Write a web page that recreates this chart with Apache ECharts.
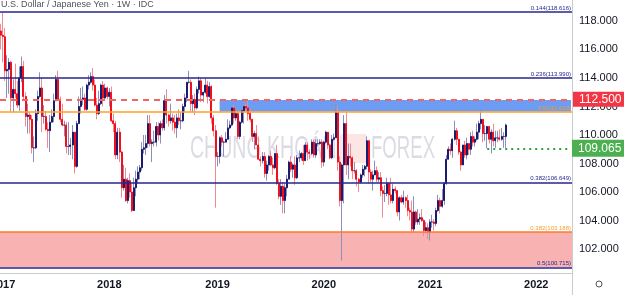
<!DOCTYPE html>
<html><head><meta charset="utf-8">
<script src="https://cdn.jsdelivr.net/npm/echarts@6/dist/echarts.min.js"></script>
<style>html,body{margin:0;padding:0;background:#fff}#c{width:624px;height:295px}</style>
</head><body><div id="c"></div>
<script>
// ---- data ----
const startWeek = '2016-12-26';
const weekCount = 280;               // visible weekly slots (incl. empty future)
const yearLabels = ['2017','2018','2019','2020','2021','2022'];
const yTickValues = [102,104,106,108,110,112,114,116,118];
const yMin = 100.32, yMax = 119.47;

const opens = [
117.3,117.0,116.9,114.5,114.6,115.1,112.6,113.2,112.9,112.1,
114.0,114.8,112.7,111.3,111.4,111.1,109.1,109.1,111.5,112.7,
113.3,111.3,111.3,110.4,110.3,110.9,111.3,112.4,113.9,112.5,
111.1,110.7,110.7,109.2,109.2,109.3,110.2,107.8,110.8,112.0,
112.5,112.6,111.8,113.5,113.7,114.1,113.5,112.1,111.5,112.2,
113.5,112.6,113.3,112.7,113.0,111.0,110.8,108.6,110.2,108.8,
106.3,106.9,105.4,106.8,106.0,104.7,106.3,106.9,107.4,107.7,
109.0,109.1,109.4,110.8,109.4,109.5,109.5,110.6,110.0,110.8,
110.5,112.4,111.4,111.0,111.2,110.9,110.5,111.2,111.0,111.0,
112.0,112.6,113.7,113.7,112.2,112.5,111.9,113.2,113.8,112.8,
113.0,113.5,112.7,113.4,111.2,110.3,108.5,108.5,109.8,109.5,
109.5,109.7,110.5,110.7,111.9,111.2,111.5,109.9,110.9,111.7,
112.0,111.9,111.5,111.1,109.9,110.1,109.3,108.3,108.2,108.5,
107.3,107.9,108.5,107.9,107.7,108.7,106.6,105.7,106.4,105.4,
106.3,106.9,108.1,107.6,107.9,107.0,108.4,108.4,108.7,108.2,
109.3,108.8,108.7,109.5,108.6,109.4,109.4,109.5,108.1,109.5,
110.2,109.3,108.4,109.7,109.8,111.6,108.1,105.4,107.9,110.8,
107.9,108.5,108.4,107.5,107.5,106.9,106.7,107.2,107.6,107.8,
109.6,107.4,106.9,107.2,107.5,106.9,107.0,106.1,105.9,105.9,
106.6,105.8,105.4,106.2,106.1,104.6,105.6,105.3,105.6,105.4,
104.7,104.6,103.4,104.6,103.9,104.1,104.2,104.0,103.3,103.5,
103.2,103.9,103.9,103.8,104.7,105.4,105.0,105.4,106.6,108.3,
109.0,108.9,109.7,110.3,109.7,108.8,107.9,109.3,108.6,109.4,
109.0,109.9,109.5,109.7,110.2,110.8,111.1,110.1,110.1,110.6,
109.7,110.2,109.6,109.8,109.8,109.7,109.9,109.9];

const highs = [
117.8,118.6,117.5,115.6,115.4,115.2,113.9,115.0,113.8,114.8,
115.5,115.2,113.0,112.2,111.6,111.4,109.9,111.8,113.1,114.4,
114.0,112.1,111.7,110.9,111.4,111.8,112.9,114.2,114.5,112.7,
112.2,111.0,110.9,110.9,109.8,110.7,110.2,111.0,112.7,113.3,
113.4,112.9,113.6,114.2,114.4,114.7,113.9,112.6,113.1,113.6,
113.8,113.6,113.4,113.3,113.4,111.5,111.0,110.5,110.5,108.9,
107.9,107.7,107.0,107.3,106.6,107.0,107.5,107.8,107.9,109.5,
110.0,110.0,111.4,111.4,109.7,110.3,110.9,110.9,111.0,111.1,
112.8,113.2,111.5,112.2,111.5,111.4,111.5,111.8,111.6,112.2,
112.9,113.7,114.5,113.9,112.8,112.9,113.4,114.1,114.0,113.0,
114.0,113.8,113.7,113.5,111.4,110.7,108.8,109.9,110.0,109.6,
110.2,111.1,111.0,111.9,112.1,111.9,111.7,111.0,111.8,112.1,
112.2,112.4,111.8,111.1,110.3,110.7,109.9,108.5,108.8,108.8,
108.2,108.6,108.9,108.4,108.7,109.3,106.9,106.9,106.7,106.6,
107.2,108.2,108.5,108.0,108.5,108.6,108.9,108.8,109.3,109.5,
109.5,109.0,109.7,109.7,109.7,109.7,109.7,109.7,109.6,110.3,
110.2,109.4,110.0,110.1,112.2,112.0,108.5,108.0,111.4,111.7,
109.4,109.4,108.5,108.1,107.6,107.0,107.3,107.9,107.9,109.9,
109.6,107.6,107.5,108.2,107.8,107.4,107.4,106.4,106.5,107.0,
106.7,107.0,106.6,106.4,106.1,105.7,105.8,106.1,105.7,105.8,
104.9,105.4,105.7,104.7,104.8,104.5,104.8,104.1,103.9,103.8,
104.1,104.4,104.1,104.9,105.8,105.6,106.2,106.7,108.6,109.2,
109.4,109.8,111.0,110.5,109.7,108.9,109.3,109.6,109.8,109.4,
110.2,110.3,109.9,110.8,111.0,111.7,111.1,110.7,110.6,110.6,
110.4,110.8,110.3,110.3,110.4,110.5,110.2,110.8];

const lows = [
116.0,115.1,113.8,112.6,112.9,111.6,111.6,112.6,111.9,111.7,
113.7,112.5,110.6,110.1,110.1,108.7,108.1,109.0,111.0,112.6,
110.2,110.8,110.3,109.1,108.8,110.9,110.9,112.4,112.4,110.9,
110.6,109.9,108.7,108.6,108.6,108.3,107.3,107.7,110.8,111.5,
112.1,111.7,111.7,113.2,113.6,113.1,112.0,111.1,111.4,112.1,
112.0,112.5,112.5,112.0,110.9,110.2,108.3,108.3,108.1,105.6,
106.1,105.3,105.2,105.6,104.6,104.7,105.7,106.6,106.9,107.5,
108.7,108.6,109.1,109.2,108.1,109.2,109.2,109.6,109.4,110.3,
110.3,110.8,110.6,110.8,110.3,110.1,109.8,110.7,110.4,110.9,
111.6,112.3,113.6,111.6,111.6,111.4,111.8,112.9,112.3,112.3,
112.9,112.2,112.6,110.8,109.9,104.9,107.8,108.0,109.2,108.5,
109.5,109.7,110.4,110.6,110.8,111.0,109.7,109.7,110.8,110.8,
111.7,111.0,110.9,109.5,109.0,109.3,108.3,107.8,108.0,107.0,
106.8,107.5,107.8,107.2,107.6,106.5,105.5,105.1,104.5,104.5,
105.7,106.9,107.4,107.0,106.5,106.9,108.1,108.2,107.9,108.2,
108.2,108.3,108.6,108.4,108.4,109.2,109.3,107.7,107.8,109.4,
109.0,108.3,108.3,109.6,109.8,107.5,105.0,101.2,105.2,107.2,
106.9,107.8,106.9,107.3,106.4,106.0,106.6,107.0,107.1,107.6,
106.6,106.7,106.1,107.2,106.7,106.7,105.7,104.2,105.3,105.7,
105.1,105.2,105.2,105.9,104.3,104.0,105.2,105.1,104.9,104.3,
104.0,103.2,103.2,103.7,103.7,103.7,103.9,102.9,103.1,102.7,
102.6,103.5,103.3,103.6,104.6,104.5,104.9,105.1,106.5,108.3,
108.6,108.4,109.6,109.3,108.6,107.5,107.9,108.4,108.3,108.6,
108.6,109.2,109.2,109.6,109.7,110.4,109.5,109.6,109.065,109.4,
108.7,109.2,109.1,109.5,109.6,109.6,109.1,109.1];

const closes = [
117.0,116.9,114.5,114.6,115.1,112.6,113.2,112.9,112.1,114.0,
114.8,112.7,111.3,111.4,111.1,109.1,109.1,111.5,112.7,113.3,
111.3,111.3,110.4,110.3,110.9,111.3,112.4,113.9,112.5,111.1,
110.7,110.7,109.2,109.2,109.3,110.2,107.8,110.8,112.0,112.5,
112.6,111.8,113.5,113.7,114.1,113.5,112.1,111.5,112.2,113.5,
112.6,113.3,112.7,113.0,111.0,110.8,108.6,110.2,108.8,106.3,
106.9,105.4,106.8,106.0,104.7,106.3,106.9,107.4,107.7,109.0,
109.1,109.4,110.8,109.4,109.5,109.5,110.6,110.0,110.8,110.5,
112.4,111.4,111.0,111.2,110.9,110.5,111.2,111.0,111.0,112.0,
112.6,113.7,113.7,112.2,112.5,111.9,113.2,113.8,112.8,113.0,
113.5,112.7,113.4,111.2,110.3,108.5,108.5,109.8,109.5,109.5,
109.7,110.5,110.7,111.9,111.2,111.5,109.9,110.9,111.7,112.0,
111.9,111.5,111.1,109.9,110.1,109.3,108.3,108.2,108.5,107.3,
107.9,108.5,107.9,107.7,108.7,106.6,105.7,106.4,105.4,106.3,
106.9,108.1,107.6,107.9,107.0,108.4,108.4,108.7,108.2,109.3,
108.8,108.7,109.5,108.6,109.4,109.4,109.5,108.1,109.5,110.2,
109.3,108.4,109.7,109.8,111.6,108.1,105.4,107.9,110.8,107.9,
108.5,108.4,107.5,107.5,106.9,106.7,107.2,107.6,107.8,109.6,
107.4,106.9,107.2,107.5,106.9,107.0,106.1,105.9,105.9,106.6,
105.8,105.4,106.2,106.1,104.6,105.6,105.3,105.6,105.4,104.7,
104.6,103.4,104.6,103.9,104.1,104.2,104.0,103.3,103.5,103.2,
103.9,103.9,103.8,104.7,105.4,105.0,105.4,106.6,108.3,109.0,
108.9,109.7,110.3,109.7,108.8,107.9,109.3,108.6,109.4,109.0,
109.9,109.5,109.7,110.2,110.8,111.1,110.1,110.1,110.6,109.7,
110.2,109.6,109.8,109.8,109.7,109.9,109.9,110.7];

// reference levels
const fibNavyValues = [118.616, 113.990, 106.649, 100.715];
const fibNavyTexts  = ['0.144(118.616)','0.236(113.990)','0.382(106.649)','0.5(100.715)'];
const fibOrangeValues = [111.61, 103.188];
const fibOrangeTexts  = ['0.5(111.613)','0.382(103.188)'];
const resistanceLevel = 112.5;
const supportLevel = 109.065;
const supportStart = '2021-07-19';
const zoneStart = '2019-01-14';
const zoneTop = 112.45, zoneBottom = 111.65;

// ---- build ----
const categories = [];
{
  const d = new Date(startWeek + 'T00:00:00Z');
  for (let i = 0; i < weekCount; i++) {
    categories.push(d.toISOString().slice(0, 10));
    d.setUTCDate(d.getUTCDate() + 7);
  }
}
const fullData = opens.map((o, i) => [o, closes[i], lows[i], highs[i]]);
const bodyData = opens.map((o, i) => [o, closes[i], Math.min(o, closes[i]), Math.max(o, closes[i])]);
const lastCat = categories[categories.length - 1];

const NAVY = '#26268f';
const fibLines = fibNavyValues.map((v, i) => ({
  yAxis: v,
  lineStyle: { color: NAVY, width: 1.6, type: 'solid' },
  label: { show: true, position: 'insideEndTop', formatter: fibNavyTexts[i], color: NAVY, fontSize: 6, distance: 1 }
})).concat(fibOrangeValues.map((v, i) => ({
  yAxis: v,
  lineStyle: { color: i === 0 ? '#ffa126' : '#ff7a2a', width: 1.6, type: 'solid' },
  label: { show: true, position: 'insideEndTop', formatter: fibOrangeTexts[i], color: '#f0a030', fontSize: 6, distance: 1 }
})));

const chart = echarts.init(document.getElementById('c'), null, { renderer: 'canvas' });
const FONT = '"Liberation Sans", Arial, sans-serif';
chart.setOption({
  animation: false,
  backgroundColor: '#fff',
  textStyle: { fontFamily: FONT },
  grid: { left: 0, right: 52, top: 0, bottom: 22, containLabel: false, outerBoundsMode: 'none' },
  xAxis: {
    type: 'category', data: categories, boundaryGap: true,
    axisLine: { show: true, lineStyle: { color: '#c9cbd1', width: 1 } },
    axisTick: { show: false },
    splitLine: { show: false },
    axisLabel: {
      interval: (idx, val) => {
        const y = val.slice(0, 4), m = val.slice(5, 7), d = +val.slice(8, 10);
        return m === '01' && d <= 7 && yearLabels.includes(y);
      },
      formatter: (val) => val.slice(0, 4),
      hideOverlap: false,
      color: '#131722', fontSize: 11, fontWeight: 'bold', margin: 6, fontFamily: FONT
    }
  },
  yAxis: {
    type: 'value', position: 'right', min: yMin, max: yMax, scale: true,
    axisLine: { show: true, lineStyle: { color: '#c9cbd1', width: 1 } },
    axisTick: { show: false },
    splitLine: { show: false },
    axisLabel: {
      customValues: yTickValues,
      formatter: (v) => v.toFixed(3),
      color: '#131722', fontSize: 11, margin: 7, fontFamily: FONT
    }
  },
  series: [
    {
      name: 'wick', type: 'candlestick', data: fullData, barWidth: 1, z: 3,
      itemStyle: { color: '#8e8eba', color0: '#f28a93', borderColor: '#8e8eba', borderColor0: '#f28a93', borderWidth: 1 },
      markArea: {
        silent: true, z: 1,
        data: [
          [{ yAxis: 103.188, itemStyle: { color: '#f9b2b2' } }, { yAxis: 100.715 }],
          [{ xAxis: zoneStart, yAxis: zoneTop, itemStyle: { color: '#6d9cf4' } }, { xAxis: lastCat, yAxis: zoneBottom }]
        ]
      },
      markLine: {
        silent: true, symbol: ['none', 'none'], z: 4,
        data: fibLines.concat([
          {
            yAxis: resistanceLevel,
            lineStyle: { color: '#f26565', width: 2, type: [6, 5] },
            label: { show: true, position: 'end', distance: 1, formatter: resistanceLevel.toFixed(3),
              color: '#fff', backgroundColor: '#f23645', padding: [2, 6, 1, 6], fontSize: 12, fontFamily: FONT }
          },
          [
            { coord: [supportStart, supportLevel],
              lineStyle: { color: '#2fa043', width: 2, type: [2, 4] },
              label: { show: true, position: 'end', distance: 1, formatter: supportLevel.toFixed(3),
                color: '#fff', backgroundColor: '#4caf50', padding: [3, 6, 2, 6], fontSize: 12, fontFamily: FONT } },
            { coord: [lastCat, supportLevel] }
          ]
        ])
      }
    },
    {
      name: 'body', type: 'candlestick', data: bodyData, barWidth: 1.5, z: 3,
      itemStyle: { color: '#1c1c6e', color0: '#f2101c', borderColor: '#1c1c6e', borderColor0: '#f2101c', borderWidth: 1 }
    }
  ],
  graphic: [
    { type: 'text', left: 1, top: 0, silent: true,
      style: { text: 'U.S. Dollar / Japanese Yen · 1W · IDC', fill: '#50535e', font: '9px ' + FONT } },
    { type: 'text', x: 190, y: 149, scaleX: 0.63, silent: true, z: -1,
      style: { text: 'CHUNG KHOÁN', fill: 'rgba(160,160,182,0.38)', font: '31px ' + FONT, textVerticalAlign: 'middle' } },
    { type: 'rect', x: 340, y: 134, silent: true, z: -1,
      shape: { width: 27, height: 29, r: 3 }, style: { fill: 'rgba(235,110,110,0.18)' } },
    { type: 'text', x: 371, y: 149, scaleX: 0.6, silent: true, z: -1,
      style: { text: 'FOREX', fill: 'rgba(160,160,182,0.38)', font: '31px ' + FONT, textVerticalAlign: 'middle' } },
    { type: 'line', silent: true, shape: { x1: 572.5, y1: 273, x2: 572.5, y2: 295 }, style: { stroke: '#c9cbd1', lineWidth: 1 } },
    { type: 'circle', silent: true, shape: { cx: 599, cy: 284, r: 3 }, style: { fill: 'none', stroke: '#555', lineWidth: 1 } }
  ]
});
</script></body></html>
